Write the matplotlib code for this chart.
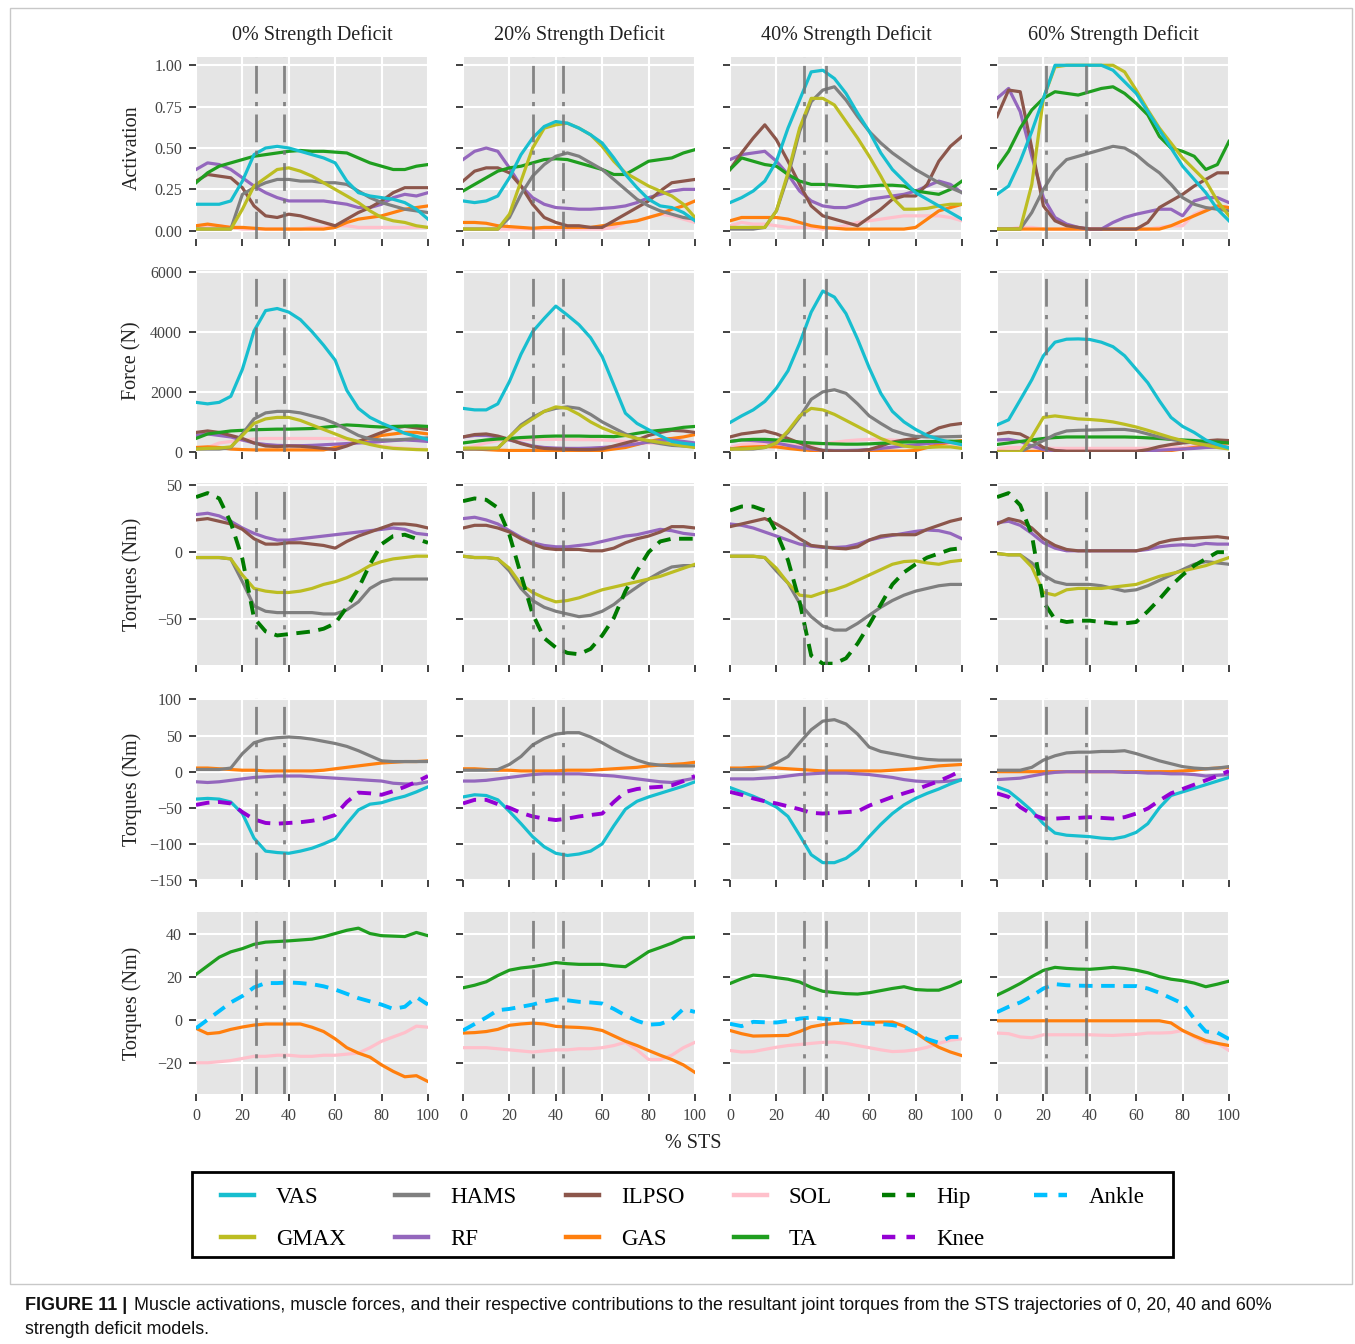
import numpy as np
import matplotlib
matplotlib.use("Agg")
import matplotlib.pyplot as plt
from matplotlib.lines import Line2D
from matplotlib.patches import Rectangle
from matplotlib.ticker import FormatStrFormatter

# ---------------- data ----------------
pct = np.arange(0, 101, 5)
deficits = ["0%", "20%", "40%", "60%"]
phase_lines = [[26, 38], [30, 43], [32, 41.5], [21, 38.5]]

# Row 1: activations
act_0 = {
    "VAS":   [0.16,0.16,0.16,0.18,0.30,0.46,0.50,0.51,0.50,0.48,0.46,0.44,0.41,0.30,0.23,0.21,0.20,0.19,0.17,0.13,0.07],
    "HAMS":  [0.01,0.01,0.01,0.01,0.22,0.26,0.29,0.31,0.31,0.30,0.30,0.29,0.29,0.28,0.24,0.20,0.17,0.15,0.13,0.12,0.11],
    "ILPSO": [0.30,0.34,0.33,0.32,0.26,0.15,0.09,0.08,0.10,0.09,0.07,0.05,0.03,0.07,0.11,0.14,0.18,0.23,0.26,0.26,0.26],
    "SOL":   [0.02,0.03,0.03,0.02,0.01,0.01,0.01,0.01,0.01,0.01,0.02,0.02,0.03,0.03,0.02,0.02,0.02,0.02,0.02,0.02,0.02],
    "GMAX":  [0.01,0.01,0.01,0.01,0.13,0.27,0.32,0.37,0.38,0.36,0.33,0.29,0.25,0.21,0.17,0.12,0.08,0.06,0.05,0.03,0.02],
    "RF":    [0.37,0.41,0.40,0.37,0.32,0.27,0.23,0.20,0.18,0.18,0.18,0.18,0.17,0.16,0.14,0.14,0.16,0.20,0.22,0.21,0.23],
    "GAS":   [0.03,0.04,0.03,0.02,0.02,0.015,0.01,0.01,0.01,0.01,0.01,0.01,0.02,0.05,0.07,0.08,0.09,0.11,0.13,0.14,0.15],
    "TA":    [0.29,0.35,0.39,0.41,0.43,0.45,0.46,0.47,0.48,0.485,0.48,0.48,0.475,0.47,0.44,0.41,0.39,0.37,0.37,0.39,0.40],
}
act_20 = {
    "VAS":   [0.18,0.17,0.18,0.21,0.32,0.46,0.56,0.63,0.66,0.65,0.62,0.58,0.53,0.44,0.34,0.26,0.19,0.15,0.14,0.11,0.06],
    "HAMS":  [0.01,0.01,0.01,0.01,0.08,0.22,0.33,0.40,0.45,0.47,0.45,0.41,0.37,0.31,0.25,0.19,0.15,0.12,0.10,0.08,0.07],
    "ILPSO": [0.30,0.36,0.38,0.38,0.35,0.27,0.16,0.08,0.05,0.03,0.03,0.02,0.02,0.06,0.10,0.14,0.18,0.24,0.29,0.30,0.31],
    "SOL":   [0.01,0.01,0.01,0.01,0.01,0.01,0.01,0.01,0.01,0.01,0.01,0.01,0.01,0.02,0.05,0.06,0.08,0.10,0.09,0.07,0.05],
    "GMAX":  [0.01,0.01,0.01,0.01,0.10,0.30,0.50,0.62,0.64,0.65,0.62,0.58,0.51,0.42,0.35,0.31,0.27,0.24,0.21,0.16,0.08],
    "RF":    [0.43,0.48,0.50,0.48,0.38,0.27,0.20,0.16,0.14,0.135,0.13,0.13,0.135,0.14,0.15,0.17,0.20,0.22,0.24,0.25,0.25],
    "GAS":   [0.05,0.05,0.045,0.03,0.025,0.02,0.015,0.02,0.02,0.02,0.02,0.02,0.03,0.04,0.05,0.06,0.08,0.10,0.13,0.15,0.18],
    "TA":    [0.24,0.28,0.32,0.36,0.38,0.39,0.41,0.43,0.435,0.43,0.41,0.39,0.37,0.34,0.34,0.38,0.42,0.43,0.44,0.47,0.49],
}
act_40 = {
    "VAS":   [0.17,0.20,0.24,0.30,0.42,0.62,0.79,0.96,0.97,0.92,0.83,0.71,0.60,0.47,0.37,0.30,0.23,0.19,0.15,0.11,0.07],
    "HAMS":  [0.01,0.01,0.01,0.02,0.12,0.33,0.60,0.78,0.85,0.87,0.79,0.69,0.60,0.53,0.47,0.42,0.37,0.33,0.29,0.26,0.23],
    "ILPSO": [0.37,0.47,0.56,0.64,0.55,0.42,0.28,0.15,0.09,0.07,0.05,0.03,0.08,0.13,0.19,0.21,0.21,0.28,0.42,0.51,0.57],
    "SOL":   [0.03,0.05,0.04,0.04,0.03,0.02,0.02,0.02,0.01,0.02,0.03,0.05,0.06,0.07,0.08,0.09,0.09,0.09,0.09,0.08,0.06],
    "GMAX":  [0.02,0.02,0.02,0.02,0.12,0.35,0.62,0.80,0.80,0.76,0.66,0.56,0.45,0.33,0.20,0.13,0.13,0.135,0.15,0.16,0.16],
    "RF":    [0.43,0.46,0.47,0.48,0.42,0.34,0.24,0.18,0.15,0.14,0.14,0.16,0.19,0.20,0.21,0.22,0.24,0.27,0.30,0.28,0.23],
    "GAS":   [0.06,0.08,0.08,0.08,0.08,0.07,0.05,0.03,0.02,0.015,0.01,0.01,0.01,0.01,0.01,0.01,0.02,0.07,0.12,0.14,0.16],
    "TA":    [0.37,0.44,0.42,0.40,0.39,0.34,0.30,0.28,0.28,0.275,0.27,0.265,0.27,0.275,0.275,0.27,0.24,0.23,0.22,0.25,0.30],
}
act_60 = {
    "VAS":   [0.22,0.27,0.42,0.60,0.80,1.0,1.0,1.0,1.0,1.0,0.97,0.90,0.83,0.72,0.61,0.50,0.39,0.31,0.23,0.13,0.06],
    "HAMS":  [0.01,0.01,0.01,0.11,0.25,0.36,0.43,0.45,0.47,0.49,0.51,0.50,0.46,0.40,0.35,0.28,0.20,0.16,0.14,0.13,0.12],
    "ILPSO": [0.69,0.85,0.84,0.50,0.15,0.06,0.03,0.02,0.01,0.01,0.01,0.01,0.01,0.05,0.14,0.18,0.22,0.27,0.31,0.35,0.35],
    "SOL":   [0.01,0.01,0.02,0.02,0.01,0.01,0.01,0.01,0.01,0.01,0.01,0.01,0.01,0.01,0.02,0.03,0.03,0.10,0.13,0.15,0.14],
    "GMAX":  [0.01,0.01,0.01,0.28,0.80,0.99,1.0,1.0,1.0,1.0,1.0,0.96,0.85,0.73,0.62,0.53,0.44,0.37,0.30,0.18,0.09],
    "RF":    [0.80,0.86,0.72,0.45,0.20,0.08,0.04,0.02,0.01,0.01,0.05,0.08,0.10,0.115,0.13,0.13,0.09,0.18,0.20,0.20,0.17],
    "GAS":   [0.01,0.01,0.01,0.01,0.01,0.01,0.01,0.01,0.01,0.01,0.01,0.01,0.01,0.01,0.01,0.03,0.06,0.09,0.12,0.15,0.14],
    "TA":    [0.38,0.48,0.62,0.73,0.80,0.84,0.83,0.82,0.84,0.86,0.87,0.83,0.77,0.70,0.57,0.50,0.48,0.45,0.37,0.40,0.54],
}

# Row 2: forces (N)
force_0 = {
    "VAS":   [1650,1600,1650,1850,2750,4020,4700,4770,4650,4400,4000,3550,3050,2050,1450,1150,960,800,620,520,410],
    "HAMS":  [100,100,100,150,600,1100,1300,1350,1350,1300,1200,1100,950,750,550,430,400,400,420,450,470],
    "ILPSO": [650,700,650,550,450,300,200,180,200,190,160,120,80,200,350,500,650,800,850,800,750],
    "SOL":   [100,150,300,350,400,430,450,450,450,450,450,450,440,420,350,280,200,150,120,100,80],
    "GMAX":  [100,120,130,170,550,950,1100,1150,1150,1050,900,750,600,450,350,250,170,120,100,80,70],
    "RF":    [550,600,550,500,400,300,250,220,210,210,220,240,260,280,300,320,350,380,400,380,350],
    "GAS":   [150,170,150,100,80,70,70,70,70,70,70,70,150,250,350,450,550,600,650,650,600],
    "TA":    [450,600,650,700,720,740,750,760,760,770,780,820,860,900,880,850,830,850,860,870,850],
}
force_20 = {
    "VAS":   [1450,1400,1400,1600,2340,3250,4000,4440,4850,4550,4230,3800,3170,2230,1290,950,740,540,350,290,240],
    "HAMS":  [100,100,100,130,500,900,1150,1350,1450,1500,1450,1250,1000,800,600,450,350,280,220,200,180],
    "ILPSO": [500,580,600,530,420,280,180,120,100,90,80,80,100,200,300,400,550,650,720,700,650],
    "SOL":   [100,200,300,380,400,420,420,420,420,420,410,410,400,380,350,320,300,280,260,240,220],
    "GMAX":  [130,130,130,130,500,850,1100,1350,1500,1450,1250,1000,800,650,550,450,380,320,260,200,150],
    "RF":    [500,550,550,500,400,300,200,150,130,120,120,130,150,180,220,270,330,380,400,350,300],
    "GAS":   [100,100,80,60,50,50,50,50,50,50,50,50,50,100,150,250,350,420,450,500,580],
    "TA":    [300,350,400,430,450,480,500,520,530,530,530,520,520,510,550,620,680,720,760,820,850],
}
force_40 = {
    "VAS":   [980,1200,1400,1680,2120,2700,3610,4650,5350,5150,4600,3750,2800,1950,1350,1000,750,550,420,320,240],
    "HAMS":  [100,100,100,150,300,650,1150,1750,2000,2070,1950,1600,1200,950,720,600,520,500,500,510,520],
    "ILPSO": [500,600,650,700,600,450,300,150,50,30,30,40,80,200,330,400,450,600,800,900,950],
    "SOL":   [150,250,280,280,260,240,220,250,280,320,370,400,420,420,400,380,340,300,260,220,200],
    "GMAX":  [100,100,120,150,300,700,1200,1450,1400,1250,1050,850,650,450,300,200,150,150,170,170,120],
    "RF":    [350,400,380,350,300,220,150,100,60,50,50,60,80,120,160,200,240,280,320,330,300],
    "GAS":   [100,150,170,180,170,120,80,50,40,30,30,30,30,30,30,30,50,150,250,330,380],
    "TA":    [350,400,420,420,400,370,330,300,280,270,260,260,270,290,310,330,340,350,350,360,350],
}
force_60 = {
    "VAS":   [900,1070,1730,2400,3200,3650,3750,3760,3740,3650,3500,3200,2750,2300,1700,1150,850,650,400,250,130],
    "HAMS":  [0,0,0,200,380,580,700,720,730,740,750,750,700,600,500,420,360,300,250,200,150],
    "ILPSO": [600,650,600,400,150,50,20,20,20,20,20,20,20,80,180,250,300,330,370,400,380],
    "SOL":   [100,150,150,150,130,120,120,120,120,120,120,120,120,125,130,140,150,200,250,280,280],
    "GMAX":  [0,0,0,500,1150,1200,1150,1100,1080,1050,1000,920,830,720,600,480,380,300,230,150,100],
    "RF":    [400,420,350,200,80,40,20,20,20,20,20,20,20,40,60,80,100,120,150,160,150],
    "GAS":   [20,20,20,20,20,20,20,20,20,20,20,20,20,20,20,50,100,150,220,280,300],
    "TA":    [250,300,350,400,450,480,500,500,500,500,500,500,490,470,450,420,400,380,350,330,300],
}

# Row 3: hip torque contributions (Nm)
hip_0 = {
    "ILPSO": [24,25,23,21,17,10,6,6,7,7,6,5,3,8,12,15,18,21,21,20,18],
    "RF":    [28,29,27,23,18,14,11,9,9,10,11,12,13,14,15,16,17,18,17,14,13],
    "GMAX":  [-4,-4,-4,-5,-17,-27,-29,-30,-30,-29,-27,-24,-22,-19,-15,-10,-7,-5,-4,-3,-3],
    "HAMS":  [-4,-4,-4,-5,-22,-40,-44,-45,-45,-45,-45,-46,-46,-43,-37,-27,-22,-20,-20,-20,-20],
    "Hip":   [41,44,40,22,-5,-49,-59,-62,-61,-60,-59,-57,-53,-41,-27,-9,6,12,13,10,7],
}
hip_20 = {
    "ILPSO": [18,20,20,18,15,10,6,3,2,2,2,1,1,3,7,10,12,15,19,19,18],
    "RF":    [25,26,24,21,16,11,7,5,4,4,5,6,8,10,12,13,15,17,16,14,13],
    "GMAX":  [-3,-4,-4,-5,-12,-24,-30,-34,-37,-36,-34,-31,-28,-26,-24,-22,-20,-18,-15,-12,-9],
    "HAMS":  [-3,-4,-4,-5,-14,-27,-36,-41,-44,-46,-48,-47,-44,-39,-32,-26,-20,-15,-11,-10,-10],
    "Hip":   [38,40,39,33,13,-17,-46,-64,-71,-75,-76,-72,-62,-49,-29,-14,0,8,10,10,10],
}
hip_40 = {
    "ILPSO": [19,21,23,25,21,16,10,5,4,3,2.5,4,9,12,13,13,13,17,20,23,25],
    "RF":    [21,20,18,15,12,9,6,4.5,3.5,3.5,4,6,9,11,12.5,14,15.5,16.5,16,14,10],
    "GMAX":  [-3,-3,-3,-4,-12,-23,-32,-33,-30,-28,-25,-21,-17,-13,-9,-7,-6.5,-8,-9,-7,-6],
    "HAMS":  [-3,-3,-3,-4,-14,-23,-38,-48,-55,-58,-58,-53,-47,-41,-36,-32,-29,-27,-25,-24,-24],
    "Hip":   [31,34,34,31,15,-6,-37,-77,-83,-83,-79,-68,-54,-39,-24,-15,-9,-4,-1,2,3],
}
hip_60 = {
    "ILPSO": [21,25,23,18,10,5,2,1,1,1,1,1,1,3,7,9,10,10.5,11,11.5,10.5],
    "RF":    [22,23,20,14,7,3,1,1,1,1,1,1,1,2,4,5,5.5,5,6.5,6,6],
    "GMAX":  [-1,-2,-2,-11,-30,-32,-28,-27,-27,-27,-26,-25,-24,-21,-18,-16,-14,-12,-10,-7,-4],
    "HAMS":  [-1,-2,-2,-8,-17,-22,-24,-24,-24,-25,-27,-29,-28,-25,-21,-17,-13,-9,-7,-8,-9],
    "Hip":   [41,44,35,13,-37,-50,-52,-51,-51,-52,-53,-53,-52,-44,-35,-25,-17,-10,-5,0,0],
}

# Row 4: knee torque contributions (Nm)
knee_0 = {
    "HAMS":  [3,3,3,5,25,40,45,47,48,47,45,42,39,35,29,22,15,14,14,14,14],
    "GAS":   [5,5,4,3,2,2,1,1,1,1,1,2,4,6,8,10,12,13,14,14,15],
    "RF":    [-14,-15,-14,-12,-10,-8,-7,-6,-6,-6,-7,-8,-9,-10,-11,-12,-13,-16,-17,-17,-14],
    "VAS":   [-38,-37,-38,-42,-58,-92,-110,-112,-113,-110,-106,-100,-93,-72,-53,-45,-43,-38,-34,-28,-21],
    "Knee":  [-46,-43,-42,-44,-56,-66,-71,-72,-71,-70,-68,-65,-60,-42,-29,-30,-32,-27,-21,-14,-6],
}
knee_20 = {
    "HAMS":  [2,2,2,3,10,21,37,46,52,54,54,48,40,31,23,16,11,9,8,8,8],
    "GAS":   [4,4,3,2,2,1,1,1,1,2,2,2,3,4,5,6,8,9,10,11,13],
    "RF":    [-13,-13,-12,-10,-8,-6,-4,-3,-3,-3,-3,-4,-5,-6,-8,-10,-12,-14,-15,-12,-9],
    "VAS":   [-35,-32,-33,-39,-55,-72,-90,-104,-113,-116,-114,-110,-100,-75,-52,-41,-35,-30,-25,-20,-14],
    "Knee":  [-44,-39,-39,-45,-50,-57,-62,-65,-67,-65,-62,-60,-58,-42,-28,-24,-22,-21,-19,-13,-6],
}
knee_40 = {
    "HAMS":  [3,3,3,5,12,21,40,58,70,72,66,52,34,28,25,22,19,17,16,16,16],
    "GAS":   [5,5,6,6,5,4,3,2,1,1,1,1,1,1,2,3,4,6,8,9,10],
    "RF":    [-10,-10,-10,-9,-8,-6,-4,-3,-2,-2,-2,-3,-4,-6,-8,-11,-13,-14,-14,-13,-11],
    "VAS":   [-22,-28,-34,-41,-49,-62,-88,-115,-126,-126,-120,-108,-90,-73,-58,-46,-37,-30,-24,-17,-11],
    "Knee":  [-28,-32,-37,-41,-44,-48,-52,-57,-58,-57,-56,-55,-47,-41,-35,-30,-25,-19,-13,-6,2],
}
knee_60 = {
    "HAMS":  [2,2,2,6,16,22,26,27,27,28,28,29,25,20,15,11,7,5,4,5,7],
    "GAS":   [0,0,0,0,0,0,0,0,0,0,0,0,0,0,0,0,1,2,4,5,6],
    "RF":    [-11,-10,-9,-6,-3,-1,0,0,0,0,0,-1,-1,-2,-2,-3,-3,-4,-6,-5,-4],
    "VAS":   [-21,-27,-40,-54,-72,-85,-88,-89,-90,-92,-93,-90,-84,-72,-50,-33,-28,-23,-18,-13,-8],
    "Knee":  [-30,-35,-49,-59,-65,-65,-64,-64,-63,-64,-65,-63,-58,-51,-40,-30,-24,-18,-12,-6,1],
}

# Row 5: ankle torque contributions (Nm)
ankle_0 = {
    "TA":    [21,25,29,31.5,33,35,36,36.3,36.6,37,37.4,38.5,40,41.5,42.5,40,39,38.8,38.6,40.5,39],
    "GAS":   [-4,-6.5,-6,-4.5,-3.4,-2.5,-2,-2,-2,-2,-3.5,-5.5,-8.9,-13,-15.5,-17.4,-21,-24,-26.5,-26,-28.7],
    "SOL":   [-20,-20,-19.5,-19,-18,-17,-17,-16.5,-16.5,-17,-17,-16.5,-16.5,-16,-15.5,-13,-10,-8,-6,-3,-3.5],
    "Ankle": [-4,0,4,8,11,15,17,17,17.3,17,16.5,15.5,14,12,10,8.5,7,5,6,10.5,7],
}
ankle_20 = {
    "TA":    [14.8,16,17.6,20.5,23,24,24.6,25.5,26.5,26,25.7,25.7,25.7,25,24.6,28,31.6,33.5,35.5,38,38.3],
    "GAS":   [-6.2,-6,-5.5,-4.5,-2.6,-2,-1.6,-2,-3.1,-3.4,-3.6,-4,-5,-7.5,-10,-12,-14.3,-16.5,-18.5,-21,-24.5],
    "SOL":   [-13,-13,-13,-13.5,-14,-14.5,-15,-14.5,-14,-14,-13.5,-13.5,-13,-12,-10.5,-14,-18.5,-18.5,-16.5,-13,-10.5],
    "Ankle": [-5,-2,1,4.4,5,6,7,8.5,9.5,9,8.3,8,7.5,5,2,-0.5,-2.3,-2,0,5,3.6],
}
ankle_40 = {
    "TA":    [16.8,19,20.7,20.3,19.5,18.8,17.5,15,13.2,12.6,12.1,11.9,12.5,13.5,14.5,15.3,14,13.7,13.7,15.5,17.9],
    "GAS":   [-5,-6.5,-7.6,-7.5,-7.4,-7.3,-5.5,-3.3,-2.3,-1.8,-1.4,-1.3,-1.2,-1.1,-1.1,-3,-6,-9.7,-12.8,-15,-16.7],
    "SOL":   [-14.3,-15,-14.8,-13.8,-12.8,-12,-11.5,-11,-10.5,-10.4,-11,-12,-13,-14,-14.8,-14.6,-14,-12.8,-11,-9.5,-8.9],
    "Ankle": [-1.9,-3,-1,-1.2,-1.3,-0.6,0.5,1,0.5,0.2,-0.5,-1.4,-1.8,-2,-2.5,-3.4,-6,-9,-10.7,-8,-8],
}
ankle_60 = {
    "TA":    [11.4,14,16.8,20,22.9,24.3,23.8,23.5,23.4,23.8,24.3,23.8,23,21.8,20,18.8,18.1,17,15.3,16.5,17.9],
    "GAS":   [-0.5,-0.5,-0.5,-0.5,-0.5,-0.5,-0.5,-0.5,-0.5,-0.5,-0.5,-0.5,-0.5,-0.5,-0.5,-1.5,-5,-7.5,-9.7,-11,-12],
    "SOL":   [-6.2,-6.5,-8,-8.4,-7,-7,-7,-7,-7,-7.2,-7.3,-7,-6.8,-6.2,-6.2,-6,-5,-8,-10.7,-10.9,-14.3],
    "Ankle": [3.5,6,8,11,14.5,16.5,16,15.8,15.7,15.7,15.7,15.6,15.6,14.5,12.5,10,7.5,0.5,-5.5,-6,-9],
}

rows_data = [
    [act_0, act_20, act_40, act_60],
    [force_0, force_20, force_40, force_60],
    [hip_0, hip_20, hip_40, hip_60],
    [knee_0, knee_20, knee_40, knee_60],
    [ankle_0, ankle_20, ankle_40, ankle_60],
]
row_ylabels = ["Activation", "Force (N)", "Torques (Nm)", "Torques (Nm)", "Torques (Nm)"]
row_yticks = [[0, 0.25, 0.5, 0.75, 1.0], [0, 2000, 4000, 6000], [-50, 0, 50],
              [-150, -100, -50, 0, 50, 100], [-20, 0, 20, 40]]
row_ylims = [(-0.05, 1.05), (0, 6050), (-84, 51.5), (-150, 102), (-34.5, 50)]

colors = {
    "VAS": "#17becf", "HAMS": "#7f7f7f", "ILPSO": "#8c564b", "SOL": "#ffc0cb",
    "GMAX": "#bcbd22", "RF": "#9467bd", "GAS": "#ff7f0e", "TA": "#1f9e1f",
    "Hip": "#007a00", "Knee": "#9400d3", "Ankle": "#00bfff",
}
dashed = {"Hip", "Knee", "Ankle"}
draw_order = ["SOL", "GAS", "RF", "ILPSO", "TA", "HAMS", "GMAX", "VAS", "Hip", "Knee", "Ankle"]

# ---------------- figure ----------------
plt.rcParams["font.family"] = ["Liberation Serif", "DejaVu Serif"]
W, H = 1355, 1344
fig = plt.figure(figsize=(W / 100, H / 100), dpi=100)

col_left = [196, 463, 730, 997]
col_w = 232
row_top = [57, 270, 483, 698, 912]
row_h = 182


def rect(l, t, w, h):
    return [l / W, 1 - (t + h) / H, w / W, h / H]


tick_color = "#333333"
for r in range(5):
    for c in range(4):
        ax = fig.add_axes(rect(col_left[c], row_top[r], col_w, row_h))
        ax.set_facecolor("#e5e5e5")
        ax.grid(True, color="white", lw=1.5)
        ax.set_axisbelow(True)
        for s in ax.spines.values():
            s.set_visible(False)
        ax.tick_params(direction="out", length=5, width=1.3, color=tick_color,
                       labelsize=11.5, labelcolor="#444444", pad=5)
        data = rows_data[r][c]
        for name in draw_order:
            if name in data:
                kw = dict(color=colors[name], lw=2.3, zorder=3)
                if name in dashed:
                    kw.update(lw=2.8, linestyle=(0, (3.5, 2.2)), zorder=4)
                ax.plot(pct, data[name], **kw)
        for xv in phase_lines[c]:
            ax.axvline(xv, color="#737373", lw=2.0, alpha=0.85,
                       linestyle=(0, (10, 3, 1.5, 3)), zorder=5)
        ax.set_xlim(0, 100)
        ax.set_xticks(range(0, 101, 20))
        ax.set_ylim(*row_ylims[r])
        ax.set_yticks(row_yticks[r])
        if r == 0:
            ax.yaxis.set_major_formatter(FormatStrFormatter("%.2f"))
            ax.set_title(f"{deficits[c]} Strength Deficit", fontsize=14.5, pad=12, color="#222222")
        if r < 4:
            ax.tick_params(labelbottom=False)
        if c > 0:
            ax.tick_params(labelleft=False)

for r in range(5):
    yc = 1 - (row_top[r] + row_h / 2) / H
    fig.text(132 / W, yc, row_ylabels[r], rotation=90, ha="center", va="center",
             fontsize=14.5, color="#222222")

fig.text(693 / W, 1 - 1143 / H, "% STS", ha="center", va="center", fontsize=14.5, color="#222222")

# legend (entries inside a separately drawn box)
leg_names = ["VAS", "GMAX", "HAMS", "RF", "ILPSO", "GAS", "SOL", "TA", "Hip", "Knee", "Ankle"]
handles = []
for n in leg_names:
    if n in dashed:
        handles.append(Line2D([], [], color=colors[n], lw=3.2, linestyle=(0, (3, 2.5))))
    else:
        handles.append(Line2D([], [], color=colors[n], lw=3.2))
bx0, bx1, by0, by1 = 192, 1173, 1172, 1257
ex0, ex1 = 214, 1152
shift = 4  # legend entries sit slightly below the box centre
leg = fig.legend(handles, leg_names, ncol=6, loc="center",
                 bbox_to_anchor=(ex0 / W, 1 - (by1 + shift) / H, (ex1 - ex0) / W, (by1 - by0) / H),
                 bbox_transform=fig.transFigure, mode="expand", fontsize=16.5,
                 frameon=False, handlelength=1.45, handletextpad=0.95, borderpad=0.3,
                 labelspacing=0.95, borderaxespad=0)
fig.patches.append(Rectangle((bx0 / W, 1 - by1 / H), (bx1 - bx0) / W, (by1 - by0) / H,
                             transform=fig.transFigure, fill=False, edgecolor="black", lw=2))

# outer border
fig.patches.append(Rectangle((10 / W, 1 - 1284 / H), 1342 / W, 1276 / H, transform=fig.transFigure,
                             fill=False, edgecolor="#c8c8c8", lw=1))

# caption
cap_font = ["Liberation Sans", "DejaVu Sans"]
fig.text(25 / W, 1 - 1305 / H, "FIGURE 11 |", family=cap_font, fontweight="bold",
         fontsize=13, va="center", ha="left", color="#111111")
fig.text(134 / W, 1 - 1305 / H,
         "Muscle activations, muscle forces, and their respective contributions to the resultant joint "
         "torques from the STS trajectories of 0, 20, 40 and 60%",
         family=cap_font, fontsize=12.9, va="center", ha="left", color="#111111")
fig.text(25 / W, 1 - 1330 / H, "strength deficit models.", family=cap_font, fontsize=12.9,
         va="center", ha="left", color="#111111")

fig.savefig("out.png", dpi=100, facecolor="white")
